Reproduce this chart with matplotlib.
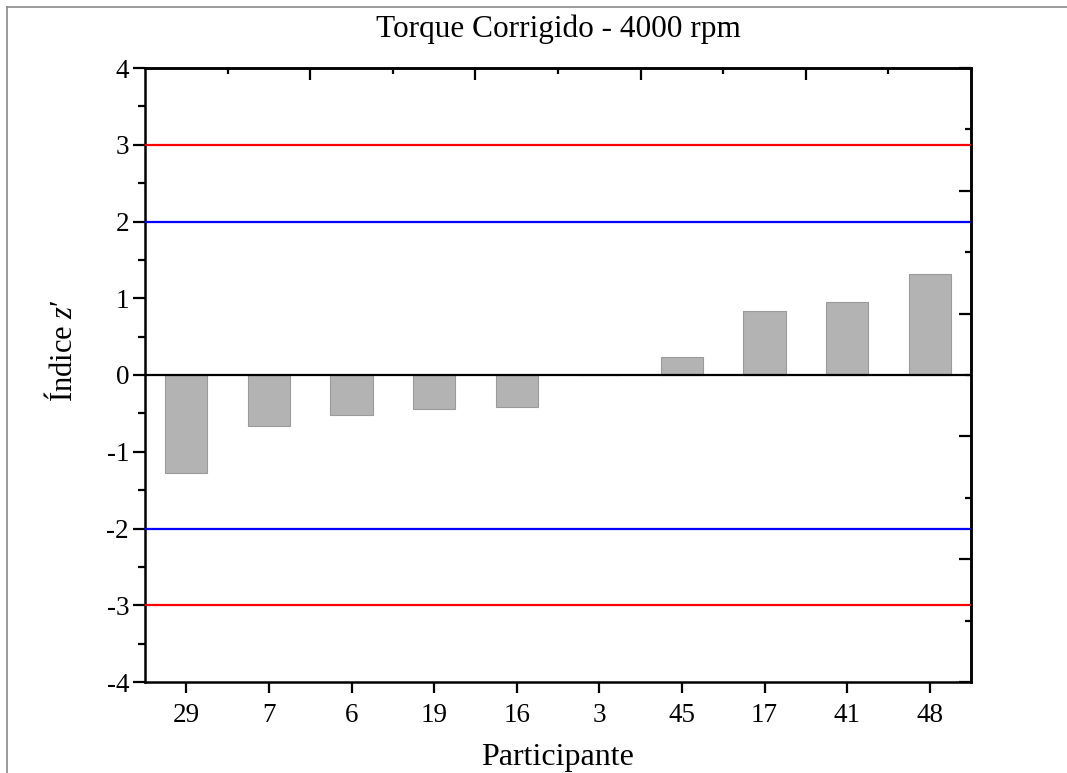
import matplotlib
matplotlib.use("Agg")
import matplotlib.pyplot as plt
from matplotlib.lines import Line2D

plt.rcParams["font.family"] = ["Liberation Serif", "DejaVu Serif"]
plt.rcParams["mathtext.fontset"] = "custom"
plt.rcParams["mathtext.rm"] = "Liberation Serif"
plt.rcParams["mathtext.it"] = "Liberation Serif:italic"

# Participants ordered by z' score
participants = ["29", "7", "6", "19", "16", "3", "45", "17", "41", "48"]
z_scores = [-1.28, -0.67, -0.52, -0.44, -0.42, 0.0, 0.24, 0.83, 0.95, 1.31]

# Acceptance limits: |z'| <= 2 satisfactory, |z'| >= 3 unsatisfactory
warning_limits = [2, -2]
action_limits = [3, -3]

y_ticks = [-4, -3, -2, -1, 0, 1, 2, 3, 4]

W, H, DPI = 1067, 773, 100
fig = plt.figure(figsize=(W / DPI, H / DPI), dpi=DPI)
ax = fig.add_axes([145 / W, 1 - 682 / H, (971 - 145) / W, (682 - 68) / H])

x = list(range(len(participants)))
ax.bar(x, z_scores, width=0.51, color="#b3b3b3", edgecolor="#9a9a9a",
       linewidth=0.8, zorder=2)

for v in action_limits:
    ax.axhline(v, color="#ff0000", lw=1.6, zorder=3)
for v in warning_limits:
    ax.axhline(v, color="#0000ff", lw=1.6, zorder=3)
ax.axhline(0, color="black", lw=1.6, zorder=4)

ax.set_xlim(-0.5, len(participants) - 0.5)
ax.set_ylim(-4, 4)
ax.set_xticks(x)
ax.set_xticklabels(participants)
ax.set_yticks(y_ticks)
ax.set_yticklabels([str(v) for v in y_ticks])
ax.set_yticks([v + 0.5 for v in y_ticks[:-1]], minor=True)

for s in ax.spines.values():
    s.set_linewidth(1.8)

ax.tick_params(axis="both", which="major", direction="out", length=8.5,
               width=1.6, labelsize=19.5, pad=3)
ax.tick_params(axis="y", which="minor", direction="out", length=5, width=1.6)
ax.tick_params(axis="x", which="major", length=8, pad=7)
ax.tick_params(top=False, right=False, which="both")

# mirrored axes with inward ticks
top = ax.secondary_xaxis("top")
top.set_xticks([1.5, 3.5, 5.5, 7.5])
top.set_xticks([0.5, 2.5, 4.5, 6.5, 8.5], minor=True)
top.tick_params(which="major", direction="in", length=8.5, width=1.6,
                labeltop=False)
top.tick_params(which="minor", direction="in", length=4.5, width=1.6)
top.spines["top"].set_linewidth(1.8)

right = ax.secondary_yaxis("right", functions=(lambda y: y * 1.25,
                                               lambda y: y / 1.25))
right.set_yticks([-5, -3, -1, 1, 3, 5])
right.set_yticks([-4, -2, 0, 2, 4], minor=True)
right.tick_params(which="major", direction="in", length=8.5, width=1.6,
                  labelright=False)
right.tick_params(which="minor", direction="in", length=4.5, width=1.6)
right.spines["right"].set_linewidth(1.8)

ax.set_title("Torque Corrigido - 4000 rpm", fontsize=22.5, pad=22)
ax.set_xlabel("Participante", fontsize=23)
ax.set_ylabel("Índice $z$′", fontsize=22)
ax.xaxis.set_label_coords(0.5, -0.099)
ax.yaxis.set_label_coords(-0.080, 0.54)

# thin frame around the figure
fig.add_artist(Line2D([7 / W, 7 / W], [0, 1 - 7 / H], transform=fig.transFigure,
                      color="#8a8a8a", lw=1.2))
fig.add_artist(Line2D([7 / W, 1], [1 - 7 / H, 1 - 7 / H], transform=fig.transFigure,
                      color="#8a8a8a", lw=1.2))

fig.savefig("out.png", dpi=DPI)
